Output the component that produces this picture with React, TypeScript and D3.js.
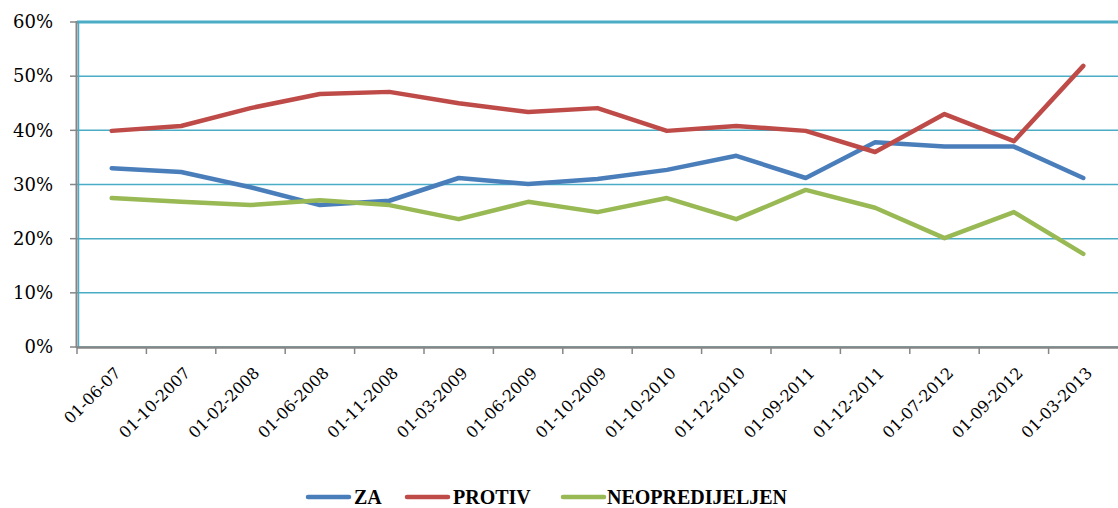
import React from 'react';
import * as d3 from 'd3';

const categories = [
  '01-06-07', '01-10-2007', '01-02-2008', '01-06-2008', '01-11-2008',
  '01-03-2009', '01-06-2009', '01-10-2009', '01-10-2010', '01-12-2010',
  '01-09-2011', '01-12-2011', '01-07-2012', '01-09-2012', '01-03-2013',
];
const za = [33.0, 32.3, 29.5, 26.2, 27.0, 31.2, 30.1, 31.0, 32.7, 35.3, 31.2, 37.8, 37.0, 37.0, 31.2];
const protiv = [39.9, 40.8, 44.1, 46.7, 47.1, 45.0, 43.4, 44.1, 39.9, 40.8, 39.9, 36.0, 43.0, 38.0, 51.9];
const neopredijeljen = [27.5, 26.8, 26.2, 27.1, 26.2, 23.6, 26.8, 24.9, 27.5, 23.6, 29.0, 25.7, 20.1, 24.9, 17.2];
const yTicks = [0, 10, 20, 30, 40, 50, 60];

const series = [
  { name: 'ZA', values: za, color: '#4a7ebb' },
  { name: 'PROTIV', values: protiv, color: '#be4b48' },
  { name: 'NEOPREDIJELJEN', values: neopredijeljen, color: '#98b954' },
];

const W = 1118;
const H = 508;
const left = 77;
const right = 1118;
const top = 22;
const bottom = 347;
const serif = '"DejaVu Serif", serif';
const legendFont = '"Liberation Serif", serif';

export default function App() {
  const x = d3.scaleBand<string>().domain(categories).range([left, right]);
  const y = d3.scaleLinear().domain([0, 60]).range([bottom, top]);
  const line = d3
    .line<number>()
    .x((_, i) => (x(categories[i]) ?? 0) + x.bandwidth() / 2)
    .y((d) => y(d));

  // legend swatch start and text start
  const legendItems = [
    { x: 308, textX: 354 },
    { x: 407, textX: 453 },
    { x: 563, textX: 607 },
  ];
  const legendY = 497;

  return (
    <svg width={W} height={H} style={{ position: 'absolute', left: 0, top: 0 }}>
      <rect width={W} height={H} fill="#fff" />
      {yTicks.map((t) => (
        <g key={t}>
          <line x1={left} x2={right} y1={y(t)} y2={y(t)} stroke="#4bacc6" strokeWidth={t === 60 ? 3 : 1.5} />
          <line x1={70} x2={left} y1={y(t)} y2={y(t)} stroke="#868686" strokeWidth={1.5} />
          <text x={53} y={y(t)} dy="0.35em" textAnchor="end" fontFamily={serif} fontSize={18} fill="#000">
            {t}%
          </text>
        </g>
      ))}
      <line x1={left + 1.5} x2={left + 1.5} y1={top} y2={bottom} stroke="#4bacc6" strokeWidth={1.5} />
      <line x1={left - 0.5} x2={left - 0.5} y1={top - 1} y2={bottom + 1} stroke="#868686" strokeWidth={2} />
      <line x1={left} x2={right} y1={bottom + 0.5} y2={bottom + 0.5} stroke="#868686" strokeWidth={2.5} />
      {categories.map((c) => (
        <line key={c} x1={x(c) ?? 0} x2={x(c) ?? 0} y1={bottom} y2={bottom + 7} stroke="#868686" strokeWidth={1.5} />
      ))}
      {categories.map((c) => {
        const cx = (x(c) ?? 0) + x.bandwidth() / 2 + 10;
        const cy = bottom + 27;
        return (
          <text
            key={c}
            x={cx}
            y={cy}
            textAnchor="end"
            transform={`rotate(-45 ${cx} ${cy})`}
            fontFamily={serif}
            fontSize={16}
            fill="#000"
          >
            {c}
          </text>
        );
      })}
      {series.map((s) => (
        <path
          key={s.name}
          d={line(s.values) ?? ''}
          fill="none"
          stroke={s.color}
          strokeWidth={4.5}
          strokeLinejoin="round"
          strokeLinecap="round"
        />
      ))}
      {series.map((s, i) => (
        <g key={s.name}>
          <line
            x1={legendItems[i].x}
            x2={legendItems[i].x + 41}
            y1={legendY}
            y2={legendY}
            stroke={s.color}
            strokeWidth={4.5}
            strokeLinecap="round"
          />
          <text
            x={legendItems[i].textX}
            y={legendY}
            dy="0.35em"
            fontFamily={legendFont}
            fontSize={20}
            fontWeight="bold"
            fill="#000"
          >
            {s.name}
          </text>
        </g>
      ))}
    </svg>
  );
}
